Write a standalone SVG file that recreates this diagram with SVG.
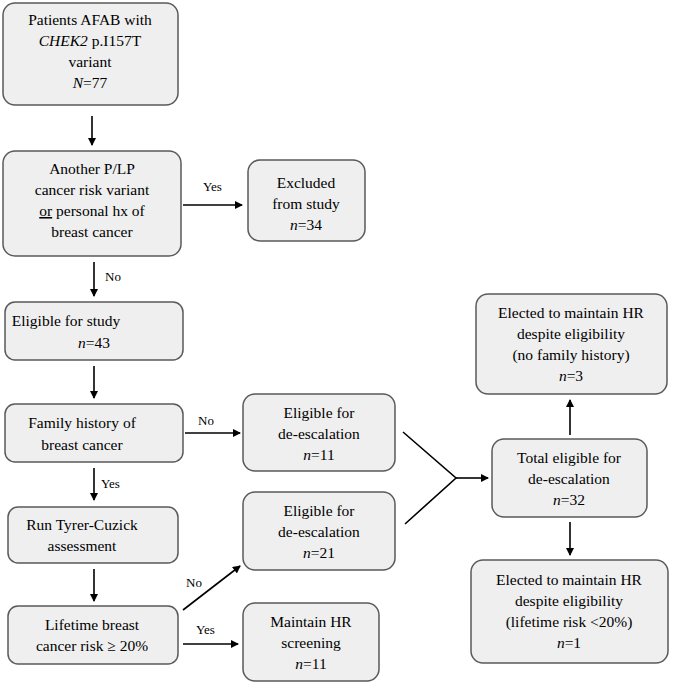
<svg xmlns="http://www.w3.org/2000/svg" width="675" height="685" viewBox="0 0 675 685" font-family="'Liberation Serif', 'Times New Roman', 'DejaVu Serif', serif">
<style>
.b{fill:#efefef;stroke:#5a5a5a;stroke-width:1.5}
text{font-family:'Liberation Serif','Times New Roman','DejaVu Serif',serif;font-size:15.5px;fill:#000;text-anchor:middle}
.l{font-size:13px;text-anchor:start}
.c line,.c polyline{stroke:#000;stroke-width:1.6;fill:none}
</style>
<defs><marker id="a" markerWidth="8" markerHeight="8" refX="7" refY="4" orient="auto" markerUnits="userSpaceOnUse"><path d="M0,0L8,4L0,8z" fill="#000"/></marker></defs>
<rect width="675" height="685" fill="#fff"/>
<g id="n1"><rect class="b" x="3" y="3" width="175" height="102" rx="12"/><text x="90" y="25">Patients AFAB with</text><text x="90" y="46"><tspan font-style="italic">CHEK2</tspan> p.I157T</text><text x="90" y="67">variant</text><text x="90" y="88"><tspan font-style="italic">N</tspan>=77</text></g>
<g id="n2"><rect class="b" x="3" y="151" width="178" height="105" rx="12"/><text x="92" y="174">Another P/LP</text><text x="92" y="195">cancer risk variant</text><text x="92" y="216"><tspan text-decoration="underline">or</tspan> personal hx of</text><text x="92" y="237">breast cancer</text></g>
<g id="n3"><rect class="b" x="248" y="160" width="117" height="81" rx="12"/><text x="306" y="188">Excluded</text><text x="306" y="209">from study</text><text x="306" y="230"><tspan font-style="italic">n</tspan>=34</text></g>
<g id="n4"><rect class="b" x="5" y="302" width="178" height="58" rx="10"/><text x="66" y="326">Eligible for study</text><text x="94" y="348"><tspan font-style="italic">n</tspan>=43</text></g>
<g id="n5"><rect class="b" x="5" y="404" width="178" height="58" rx="10"/><text x="82" y="428">Family history of</text><text x="82" y="450">breast cancer</text></g>
<g id="n6"><rect class="b" x="243" y="394" width="152" height="77" rx="12"/><text x="319" y="418">Eligible for</text><text x="319" y="439">de-escalation</text><text x="319" y="460"><tspan font-style="italic">n</tspan>=11</text></g>
<g id="n7"><rect class="b" x="8" y="507" width="170" height="56" rx="10"/><text x="82" y="530">Run Tyrer-Cuzick</text><text x="82" y="551">assessment</text></g>
<g id="n8"><rect class="b" x="243" y="492" width="152" height="78" rx="12"/><text x="319" y="516">Eligible for</text><text x="319" y="537">de-escalation</text><text x="319" y="558"><tspan font-style="italic">n</tspan>=21</text></g>
<g id="n9"><rect class="b" x="8" y="606" width="170" height="58" rx="10"/><text x="92" y="630">Lifetime breast</text><text x="92" y="651">cancer risk ≥ 20%</text></g>
<g id="n10"><rect class="b" x="243" y="603" width="136" height="78" rx="12"/><text x="311" y="627">Maintain HR</text><text x="311" y="648">screening</text><text x="311" y="669"><tspan font-style="italic">n</tspan>=11</text></g>
<g id="n11"><rect class="b" x="492" y="439" width="155" height="78" rx="12"/><text x="569" y="463">Total eligible for</text><text x="569" y="484">de-escalation</text><text x="569" y="505"><tspan font-style="italic">n</tspan>=32</text></g>
<g id="n12"><rect class="b" x="476" y="294" width="191" height="100" rx="12"/><text x="571" y="318">Elected to maintain HR</text><text x="571" y="339">despite eligibility</text><text x="571" y="360">(no family history)</text><text x="571" y="381"><tspan font-style="italic">n</tspan>=3</text></g>
<g id="n13"><rect class="b" x="471" y="560" width="197" height="103" rx="12"/><text x="569" y="585">Elected to maintain HR</text><text x="569" y="606">despite eligibility</text><text x="569" y="627">(lifetime risk &lt;20%)</text><text x="569" y="648"><tspan font-style="italic">n</tspan>=1</text></g>
<g class="c">
<line x1="92" y1="116" x2="92" y2="145" marker-end="url(#a)"/>
<line x1="94" y1="262" x2="94" y2="296" marker-end="url(#a)"/>
<line x1="183" y1="205" x2="242" y2="205" marker-end="url(#a)"/>
<line x1="94" y1="366" x2="94" y2="398" marker-end="url(#a)"/>
<line x1="185" y1="433" x2="240" y2="433" marker-end="url(#a)"/>
<line x1="94" y1="468" x2="94" y2="500" marker-end="url(#a)"/>
<line x1="94" y1="569" x2="94" y2="601" marker-end="url(#a)"/>
<line x1="183" y1="610" x2="240" y2="566" marker-end="url(#a)"/>
<line x1="183" y1="644" x2="238" y2="644" marker-end="url(#a)"/>
<polyline points="403,432 456,478 405,524"/>
<line x1="456" y1="478" x2="488" y2="478" marker-end="url(#a)"/>
<line x1="570" y1="435" x2="570" y2="400" marker-end="url(#a)"/>
<line x1="570" y1="522" x2="570" y2="555" marker-end="url(#a)"/>
<text class="l" x="203" y="191">Yes</text>
<text class="l" x="105" y="281">No</text>
<text class="l" x="198" y="425">No</text>
<text class="l" x="101" y="488">Yes</text>
<text class="l" x="186" y="587">No</text>
<text class="l" x="196" y="634">Yes</text>
</g>
</svg>
